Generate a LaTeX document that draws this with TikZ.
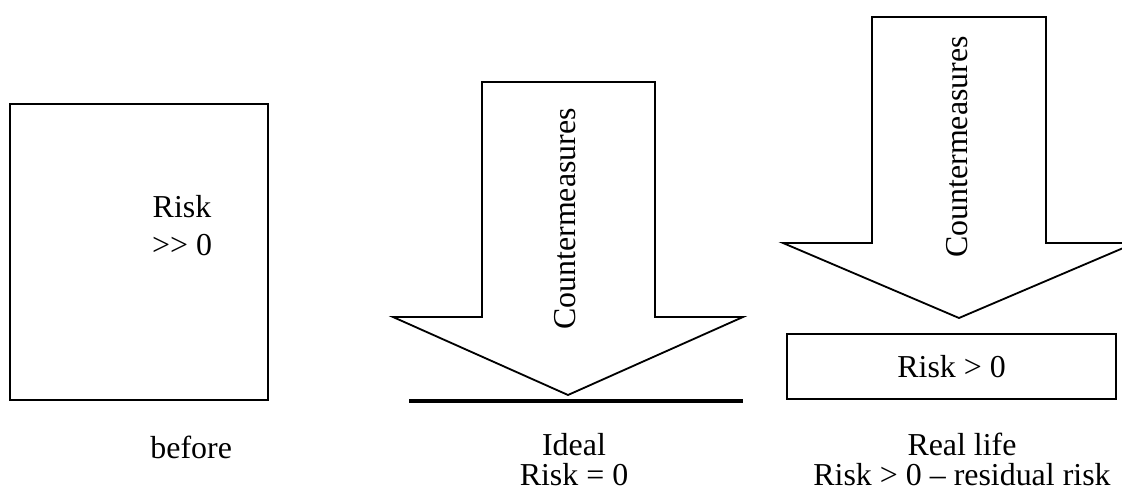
\documentclass[tikz,border=0pt]{standalone}
\usepackage{fontspec}
\setmainfont{Liberation Serif}
\usepackage{tikz}
\usetikzlibrary{positioning}
\tikzset{
    bigfont/.style={font=\fontsize{22.7}{21.3}\selectfont},
    riskbox/.style={draw, rectangle, line width=1.2pt, inner sep=0pt, bigfont},
    blockarrow/.style={draw, line width=1.3pt, line join=miter},
    caption/.style={bigfont, align=center},
    arrowtext/.style={bigfont, rotate=90, anchor=base west, inner sep=0pt},
    floorline/.style={line width=3.2pt},
}

\begin{document}
\begin{tikzpicture}
    \useasboundingbox (0,0) rectangle (28.05,12.35);
    \clip (0,0) rectangle (28.05,12.35);

    % Before
    \node[riskbox, minimum width=6.45cm, minimum height=7.4cm] (before) at (3.475,6.05) {};
    \node[caption, font=\fontsize{22.7}{27.7}\selectfont] (riskhigh) at (4.55,6.71) {Risk\\{>}{>} 0};
    \node[bigfont, anchor=base] (beforecap) at (4.78,0.9) {before};

    % Ideal
    \draw[blockarrow] (12.05,10.3) -- (16.375,10.3) -- (16.375,4.425) -- (18.575,4.425)
        -- (14.2,2.475) -- (9.825,4.425) -- (12.05,4.425) -- cycle;
    \node[arrowtext] (cmideal) at (14.375,4.1) {Countermeasures};
    \draw[floorline] (10.225,2.325) -- (18.575,2.325);
    \node[caption] (idealcap) at (14.35,0.85) {Ideal\\Risk = 0};

    % Real life
    \draw[blockarrow] (21.8,11.925) -- (26.15,11.925) -- (26.15,6.275) -- (28.375,6.275)
        -- (23.975,4.4) -- (19.575,6.275) -- (21.8,6.275) -- cycle;
    \node[arrowtext] (cmreal) at (24.175,5.9) {Countermeasures};
    \node[riskbox, minimum width=8.225cm, minimum height=1.625cm] (residual) at (23.79,3.19) {Risk > 0};
    \node[caption] (realcap) at (24.05,0.875) {Real life\\Risk > 0 -- residual risk};
\end{tikzpicture}
\end{document}
